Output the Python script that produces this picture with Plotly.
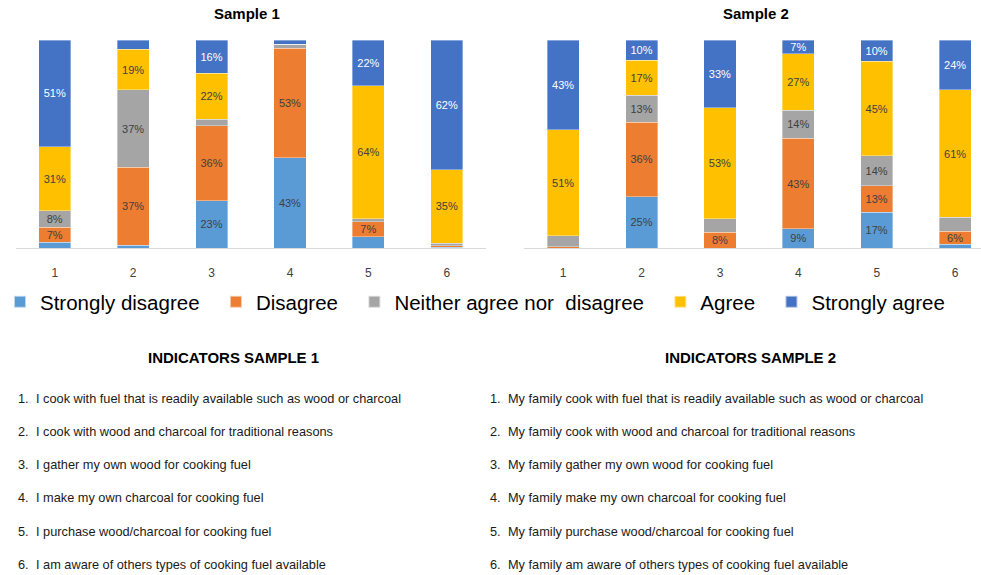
import plotly.graph_objects as go

# Survey statements (x positions 1..6) and Likert response shares (%)
indicators = [1, 2, 3, 4, 5, 6]
tick_labels = ["1", "2", "3", "4", "5", "6"]
responses = ["Strongly disagree", "Disagree", "Neither agree nor  disagree", "Agree", "Strongly agree"]
colors = ["#5B9BD5", "#ED7D31", "#A5A5A5", "#FFC000", "#4472C4"]

# Sample 1 shares per response category
s1_strongly_disagree = [2.7, 1.4, 22.7, 43.4, 5.3, 0.4]
s1_disagree = [7.2, 37.4, 36.0, 52.6, 7.3, 0.8]
s1_neither = [8.0, 37.3, 3.2, 1.9, 1.5, 1.2]
s1_agree = [30.8, 19.4, 22.1, 0.0, 64.0, 35.2]
s1_strongly_agree = [51.3, 4.5, 16.0, 2.1, 21.9, 62.4]

# Sample 2 shares per response category
s2_strongly_disagree = [0.0, 24.6, 0.0, 9.3, 17.2, 1.9]
s2_disagree = [0.6, 35.9, 7.6, 43.4, 12.8, 6.1]
s2_neither = [5.3, 12.9, 6.5, 13.6, 14.3, 6.7]
s2_agree = [50.9, 16.8, 53.3, 27.0, 45.4, 61.4]
s2_strongly_agree = [43.2, 9.8, 32.6, 6.7, 10.3, 23.9]

# Which segments carry a data label
s1_labelled = [
    [0, 0, 1, 1, 0, 0],
    [1, 1, 1, 1, 1, 0],
    [1, 1, 0, 0, 0, 0],
    [1, 1, 1, 0, 1, 1],
    [1, 0, 1, 0, 1, 1],
]
s2_labelled = [
    [0, 1, 0, 1, 1, 0],
    [0, 1, 1, 1, 1, 1],
    [0, 1, 0, 1, 1, 0],
    [1, 1, 1, 1, 1, 1],
    [1, 1, 1, 1, 1, 1],
]

sample1 = [s1_strongly_disagree, s1_disagree, s1_neither, s1_agree, s1_strongly_agree]
sample2 = [s2_strongly_disagree, s2_disagree, s2_neither, s2_agree, s2_strongly_agree]

statements_1 = [
    "I cook with fuel that is readily available such as wood or charcoal",
    "I cook with wood and charcoal for traditional reasons",
    "I gather my own wood for cooking fuel",
    "I make my own charcoal for cooking fuel",
    "I purchase wood/charcoal for cooking fuel",
    "I am aware of others types of cooking fuel available",
]
statements_2 = [
    "My family cook with fuel that is readily available such as wood or charcoal",
    "My family cook with wood and charcoal for traditional reasons",
    "My family gather my own wood for cooking fuel",
    "My family make my own charcoal for cooking fuel",
    "My family purchase wood/charcoal for cooking fuel",
    "My family am aware of others types of cooking fuel available",
]

FONT = "Liberation Sans, Arial, sans-serif"
LEGEND_PAD = "\u00a0\u00a0"  # extra room after each legend entry

fig = go.Figure()

for panel, (data, labelled) in enumerate([(sample1, s1_labelled), (sample2, s2_labelled)]):
    xa = "x" if panel == 0 else "x2"
    ya = "y" if panel == 0 else "y2"
    for k, name in enumerate(responses):
        vals = data[k]
        texts = [f"{v:.0f}%" if show else "" for v, show in zip(vals, labelled[k])]
        fig.add_trace(go.Bar(
            x=indicators, y=vals, name=name + LEGEND_PAD, width=0.41,
            marker=dict(color=colors[k], line=dict(color="rgba(255,255,255,0.6)", width=0.6)),
            text=texts, textposition="inside", insidetextanchor="middle",
            textfont=dict(family=FONT, size=11,
                          color="#ffffff" if k == 4 else "#404040"),
            legendgroup=name, showlegend=(panel == 0),
            xaxis=xa, yaxis=ya, hoverinfo="skip",
        ))

axis_common = dict(
    tickmode="array", tickvals=indicators, ticktext=tick_labels,
    showline=True, linecolor="#d9d9d9", linewidth=1,
    showgrid=False, zeroline=False, ticks="",
    ticklabelstandoff=14,
    tickfont=dict(family=FONT, size=12, color="#404040"),
)
yaxis_common = dict(range=[0, 100], visible=False, showgrid=False, zeroline=False)

plot_bottom = 1 - 248 / 575
plot_top = 1 - 40 / 575

fig.update_layout(
    width=981, height=575,
    margin=dict(l=0, r=0, t=0, b=0),
    paper_bgcolor="white", plot_bgcolor="white",
    barmode="stack",
    uniformtext=dict(minsize=11, mode="show"),
    font=dict(family=FONT, color="#000000"),
    xaxis=dict(domain=[15.6 / 981, 486 / 981], range=[0.5, 6.5], anchor="y", **axis_common),
    yaxis=dict(domain=[plot_bottom, plot_top], anchor="x", **yaxis_common),
    xaxis2=dict(domain=[524 / 981, 1.0], range=[0.5, 6.33], anchor="y2", **axis_common),
    yaxis2=dict(domain=[plot_bottom, plot_top], anchor="x2", **yaxis_common),
    legend=dict(
        orientation="h", x=0.0, xanchor="left",
        y=1 - 302 / 575, yanchor="middle",
        traceorder="normal",
        font=dict(family=FONT, size=20.5, color="#000000"),
        itemsizing="constant", itemwidth=30,
        bgcolor="rgba(0,0,0,0)",
    ),
)

annotations = []

# Panel titles
for text, cx in [("Sample 1", 247), ("Sample 2", 756)]:
    annotations.append(dict(
        text=f"<b>{text}</b>", x=cx / 981, y=1 - 13 / 575, xref="paper", yref="paper",
        xanchor="center", yanchor="middle", showarrow=False,
        font=dict(family=FONT, size=15, color="#000000"),
    ))

# Statement lists under the charts
for title, cx, num_x, txt_x, statements in [
    ("INDICATORS SAMPLE 1", 233, 16, 34, statements_1),
    ("INDICATORS SAMPLE 2", 750, 488, 506, statements_2),
]:
    annotations.append(dict(
        text=f"<b>{title}</b>", x=cx / 981, y=1 - 357 / 575, xref="paper", yref="paper",
        xanchor="center", yanchor="middle", showarrow=False,
        font=dict(family=FONT, size=15, color="#000000"),
    ))
    for i, s in enumerate(statements):
        ypix = 398 + i * 33.3
        annotations.append(dict(
            text=f"{i + 1}.", x=num_x / 981, y=1 - ypix / 575, xref="paper", yref="paper",
            xanchor="left", yanchor="middle", showarrow=False,
            font=dict(family=FONT, size=12.75, color="#1a1a1a"),
        ))
        annotations.append(dict(
            text=s, x=txt_x / 981, y=1 - ypix / 575, xref="paper", yref="paper",
            xanchor="left", yanchor="middle", showarrow=False,
            font=dict(family=FONT, size=12.75, color="#1a1a1a"),
        ))

fig.update_layout(annotations=annotations)

fig.write_html("out.html")
